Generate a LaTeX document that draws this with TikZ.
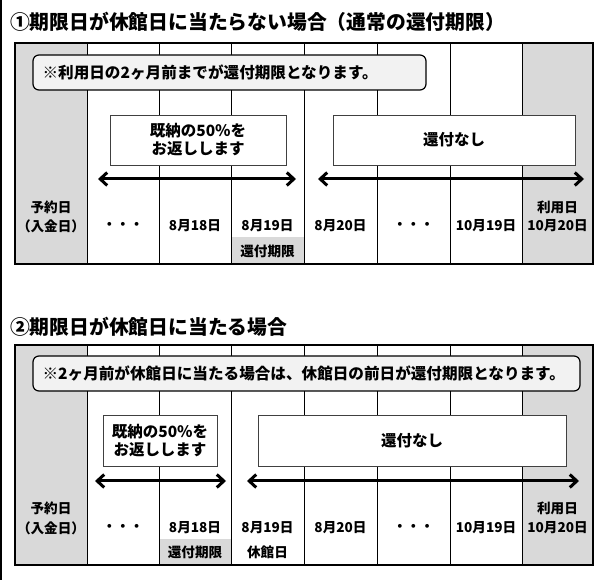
\documentclass[tikz,border=0pt]{standalone}
\usepackage{fontspec}
\setmainfont{Noto Sans CJK JP}
\usetikzlibrary{arrows.meta}
\definecolor{cellgray}{HTML}{D9D9D9}
\definecolor{notegray}{HTML}{F2F2F2}
\definecolor{boxline}{HTML}{404040}
\begin{document}
\begin{tikzpicture}[x=1pt,y=-1pt,
  txt/.style={font=\bfseries\fontsize{13.6}{19}\selectfont, inner sep=0pt, align=center},
  boxtxt/.style={font=\bfseries\fontsize{15.5}{18}\selectfont, inner sep=0pt, align=center},
  notetxt/.style={font=\bfseries\fontsize{15.6}{18}\selectfont, inner sep=0pt, anchor=west},
  titletxt/.style={font=\bfseries\fontsize{19.8}{22}\selectfont, inner sep=0pt, anchor=west},
  notebox/.style={draw=black, line width=1.2pt, fill=notegray, rounded corners=6pt, inner sep=0pt},
  msgbox/.style={draw=boxline, line width=0.8pt, fill=white, inner sep=0pt},
  colline/.style={line width=0.8pt},
  frameline/.style={line width=2pt},
  span/.style={line width=3pt, {Straight Barb[length=7pt,width=13pt]}-{Straight Barb[length=7pt,width=13pt]}}
]
\useasboundingbox (0,0) rectangle (598,580);
\fill[white] (0,0) rectangle (598,580);
\draw[line width=1.6pt] (0.8,0) -- (0.8,580);

% ================= Frame 1 =================
\node[titletxt] (t1) at (10,22) {①期限日が休館日に当たらない場合（通常の還付期限）};
\fill[cellgray] (15,43) rectangle (87,264);
\fill[cellgray] (522,43) rectangle (593,264);
\fill[cellgray] (231,237) rectangle (304,264);
\foreach \x in {87,159,231,304,377,450,522} \draw[colline] (\x,43) -- (\x,264);
\draw[frameline] (15,43) rectangle (593,264);

\node[notebox, minimum width=393pt, minimum height=35pt] (n1) at (229.5,72.5) {};
\node[notetxt] (n1t) at ([xshift=10pt]n1.west) {※利用日の2ヶ月前までが還付期限となります。};

\node[msgbox, minimum width=176pt, minimum height=50pt] (b1) at (198,140) {};
\node[boxtxt] (b1t) at (b1.center) {既納の50％を\\お返しします};
\node[msgbox, minimum width=242pt, minimum height=50pt] (b2) at (454,140) {};
\node[boxtxt] (b2t) at (b2.center) {還付なし};

\coordinate (a1l) at (98,179);
\coordinate (a1r) at (296,179);
\coordinate (a2l) at (318,179);
\coordinate (a2r) at (584,179);
\draw[span] (a1l) -- (a1r);
\draw[span] (a2l) -- (a2r);

\node[txt] (c1a) at (51,207) {予約日};
\node[txt] (c1b) at (51,226) {（入金日）};
\node[txt] (c2) at (123,226) {・・・};
\node[txt] (c3) at (195,226) {8月18日};
\node[txt] (c4) at (267.5,226) {8月19日};
\node[txt] (c4b) at (267.5,251) {還付期限};
\node[txt] (c5) at (340.5,226) {8月20日};
\node[txt] (c6) at (413.5,226) {・・・};
\node[txt] (c7) at (486,226) {10月19日};
\node[txt] (c8a) at (557.5,207) {利用日};
\node[txt] (c8b) at (557.5,226) {10月20日};

% ================= Frame 2 =================
\node[titletxt] (t2) at (10,327) {②期限日が休館日に当たる場合};
\fill[cellgray] (15,345) rectangle (87,565);
\fill[cellgray] (522,345) rectangle (593,565);
\fill[cellgray] (159,539) rectangle (231,565);
\foreach \x in {87,159,231,304,377,450,522} \draw[colline] (\x,345) -- (\x,565);
\draw[frameline] (15,345) rectangle (593,565);

\node[notebox, minimum width=547pt, minimum height=35pt] (n2) at (306.5,373.5) {};
\node[notetxt] (n2t) at ([xshift=10pt]n2.west) {※2ヶ月前が休館日に当たる場合は、休館日の前日が還付期限となります。};

\node[msgbox, minimum width=114pt, minimum height=51pt] (b3) at (160,440.5) {};
\node[boxtxt] (b3t) at (b3.center) {既納の50％を\\お返しします};
\node[msgbox, minimum width=308pt, minimum height=51pt] (b4) at (412,440.5) {};
\node[boxtxt] (b4t) at (b4.center) {還付なし};

\coordinate (a3l) at (95,481);
\coordinate (a3r) at (226,481);
\coordinate (a4l) at (247,481);
\coordinate (a4r) at (579,481);
\draw[span] (a3l) -- (a3r);
\draw[span] (a4l) -- (a4r);

\node[txt] (d1a) at (51,508) {予約日};
\node[txt] (d1b) at (51,528) {（入金日）};
\node[txt] (d2) at (123,528) {・・・};
\node[txt] (d3) at (195,528) {8月18日};
\node[txt] (d3b) at (195,552) {還付期限};
\node[txt] (d4) at (267.5,528) {8月19日};
\node[txt] (d4b) at (267.5,552) {休館日};
\node[txt] (d5) at (340.5,528) {8月20日};
\node[txt] (d6) at (413.5,528) {・・・};
\node[txt] (d7) at (486,528) {10月19日};
\node[txt] (d8a) at (557.5,508) {利用日};
\node[txt] (d8b) at (557.5,528) {10月20日};
\end{tikzpicture}
\end{document}
